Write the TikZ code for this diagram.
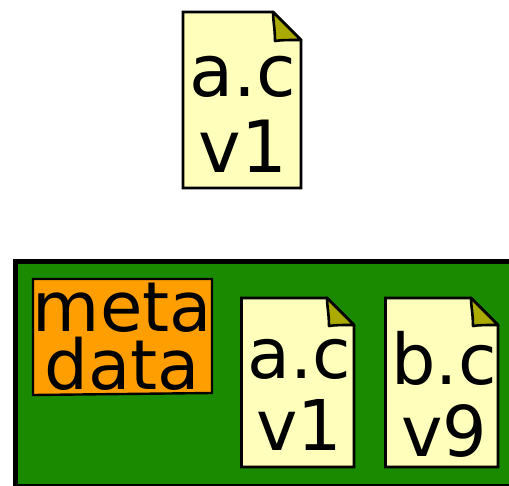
\documentclass[tikz,border=0pt]{standalone}
\usepackage{fontspec}
\setmainfont{DejaVu Sans}
\definecolor{pagefill}{HTML}{FFFFBB}
\definecolor{foldfill}{HTML}{AAAA00}
\definecolor{boxgreen}{HTML}{1A8A00}
\definecolor{metaorange}{HTML}{FF9E00}
\tikzset{every node/.style={align=center, inner sep=0pt},
  page/.style={draw=black, line width=2.8pt, fill=pagefill, line join=miter},
  fold/.style={draw=black, line width=2.6pt, fill=foldfill, line join=round},
  bigtext/.style={font=\fontsize{72}{76}\selectfont},
  midtext/.style={font=\fontsize{70}{72}\selectfont},
  metatext/.style={font=\fontsize{69}{58}\selectfont}}
% #1 left, #2 top, #3 right, #4 bottom, #5 size of the fold
\newcommand{\filepage}[5]{
  \draw[page] (#1,#2) -- (#3-#5,#2) -- (#3,#2+#5) -- (#3,#4) -- (#1,#4) -- cycle;
  \draw[fold] (#3-#5,#2) -- (#3,#2+#5) .. controls (#3-#5*0.5,#2+#5) and (#3-#5*0.7,#2+#5) .. (#3-#5+2,#2+#5+1) .. controls (#3-#5+2,#2+#5*0.6) and (#3-#5,#2+#5*0.3) .. cycle;
}
\begin{document}
\begin{tikzpicture}[x=1pt, y=-1pt]
  \useasboundingbox (0,0) rectangle (509,485);
  % the repository
  \draw[line width=5pt, fill=boxgreen] (15.5,261.5) rectangle (560,486.5);
  \draw[line width=2.4pt, fill=metaorange] (33,279) -- (212,279) -- (212,393) -- (33,395) -- cycle;
  \node [metatext] (meta) at (122.5,337) {meta\\data};
  % the files
  \filepage{183}{12}{301}{188}{28}
  \filepage{241.5}{298}{354}{467}{27}
  \filepage{385.5}{298}{498}{467}{27}
  \node [bigtext] (file0) at (243,114) {a.c\\v1};
  \node [midtext] (file1) at (299,394.5) {a.c\\v1};
  \node [midtext] (file2) at (444,394.5) {b.c\\v9};
\end{tikzpicture}
\end{document}
